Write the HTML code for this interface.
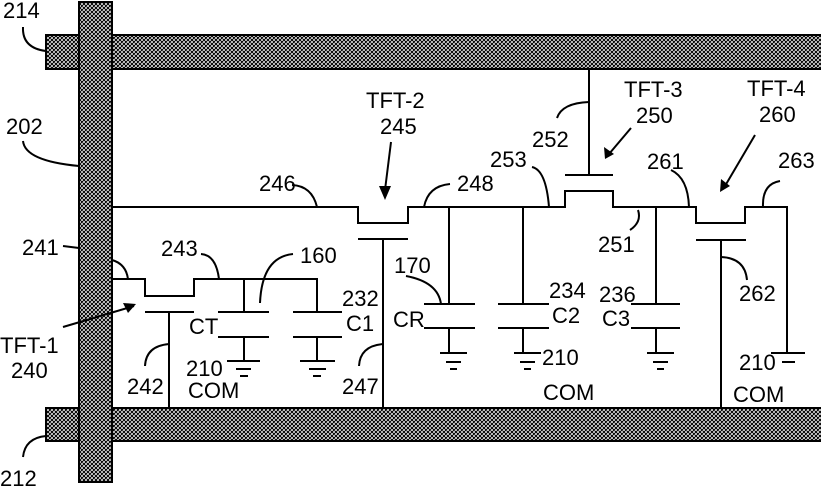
<!DOCTYPE html>
<html><head><meta charset="utf-8"><style>
html,body{margin:0;padding:0;background:#fff;}
svg{display:block;}
text{font-family:"Liberation Sans",Arial,sans-serif;font-size:22px;fill:#000;}
</style></head><body>
<svg width="821" height="486" viewBox="0 0 821 486" xmlns="http://www.w3.org/2000/svg">
<defs>
<pattern id="h" width="4" height="4" patternUnits="userSpaceOnUse">
<rect width="4" height="4" fill="#fff"/>
<path d="M-1,1 L1,-1 M0,4 L4,0 M3,5 L5,3 M-1,3 L1,5 M0,0 L4,4 M3,-1 L5,1" stroke="#000" stroke-width="1.1"/>
</pattern>
</defs>
<g stroke="#000" stroke-width="2" fill="url(#h)">
<rect x="46" y="35" width="780" height="34"/>
<rect x="46" y="408" width="780" height="33"/>
<rect x="79" y="2" width="33" height="480"/>
</g>
<g stroke="#000" stroke-width="2" fill="none">
<polyline points="112,207 358,207 358,223 408,223 408,207 565,207 565,191 613,191 613,207 696,207 696,223 745,223 745,207 787,207 787,353"/>
<line x1="771" y1="353" x2="805" y2="353"/>
<line x1="782" y1="362" x2="795" y2="362"/>
<line x1="358" y1="239" x2="408" y2="239"/><line x1="383" y1="239" x2="383" y2="408"/>
<line x1="565" y1="175" x2="613" y2="175"/><line x1="589" y1="175" x2="589" y2="69"/>
<line x1="696" y1="240" x2="746" y2="240"/><line x1="721" y1="240" x2="721" y2="408"/>
<line x1="449" y1="207" x2="449" y2="304"/><line x1="424" y1="304" x2="475" y2="304"/><line x1="424" y1="328" x2="475" y2="328"/><line x1="449" y1="328" x2="449" y2="353"/><line x1="440" y1="353" x2="467" y2="353"/><line x1="446" y1="362" x2="461" y2="362"/><line x1="450" y1="369" x2="457" y2="369"/>
<line x1="523" y1="207" x2="523" y2="304"/><line x1="498" y1="304" x2="549" y2="304"/><line x1="498" y1="328" x2="549" y2="328"/><line x1="523" y1="328" x2="523" y2="353"/><line x1="514" y1="353" x2="541" y2="353"/><line x1="520" y1="362" x2="535" y2="362"/><line x1="524" y1="369" x2="531" y2="369"/>
<line x1="656" y1="207" x2="656" y2="304"/><line x1="631" y1="304" x2="680" y2="304"/><line x1="631" y1="328" x2="680" y2="328"/><line x1="656" y1="328" x2="656" y2="353"/><line x1="647" y1="353" x2="674" y2="353"/><line x1="653" y1="362" x2="668" y2="362"/><line x1="657" y1="369" x2="664" y2="369"/>
<polyline points="112,279 145,279 145,296 194,296 194,279 317,279 317,312"/>
<line x1="145" y1="312" x2="194" y2="312"/><line x1="169" y1="312" x2="169" y2="408"/>
<line x1="244" y1="279" x2="244" y2="312"/><line x1="218" y1="312" x2="269" y2="312"/><line x1="218" y1="337" x2="269" y2="337"/><line x1="244" y1="337" x2="244" y2="361"/><line x1="227" y1="361" x2="260" y2="361"/><line x1="236" y1="369" x2="251" y2="369"/><line x1="240" y1="376" x2="248" y2="376"/>
<line x1="293" y1="312" x2="342" y2="312"/><line x1="293" y1="337" x2="342" y2="337"/><line x1="317" y1="337" x2="317" y2="361"/><line x1="300" y1="361" x2="335" y2="361"/><line x1="309" y1="369" x2="326" y2="369"/><line x1="313" y1="376" x2="321" y2="376"/>
<path d="M23,27 Q22,48 46,51"/>
<path d="M23,141 Q25,161 79,166"/>
<path d="M292,185 Q312,186 317,207"/>
<path d="M424,207 Q428,186 450,184"/>
<path d="M532,167 Q546,170 549,207"/>
<path d="M557,118 Q562,103 589,102"/>
<path d="M638,210 Q642,222 630,230"/>
<path d="M671,170 Q688,178 689,207"/>
<path d="M763,207 Q762,184 780,181"/>
<path d="M721,257 Q745,258 747,280"/>
<path d="M406,276 Q438,282 441,304"/>
<path d="M63,246 L79,248"/>
<path d="M112,260 Q126,264 128,279"/>
<path d="M201,254 Q216,255 219,279"/>
<path d="M293,254 Q262,257 260,303"/>
<path d="M145,366 Q146,346 169,344"/>
<path d="M359,366 Q360,346 383,344"/>
<path d="M23,457 Q25,438 46,436"/>
<path d="M63,327 L134,306"/>
</g>
<g fill="#000">
<polygon points="385,200 379,186 391,186"/>
<polygon points="605,159 604,147 614,154"/>
<polygon points="720,192 721,179 730,186"/>
<polygon points="136,304 123,303 128,313"/>
<line x1="391" y1="142" x2="385" y2="190" stroke="#000" stroke-width="2"/>
<line x1="631" y1="128" x2="609" y2="154" stroke="#000" stroke-width="2"/>
<line x1="755" y1="135" x2="725" y2="186" stroke="#000" stroke-width="2"/>
</g>
<text x="3" y="18">214</text>
<text x="6" y="134">202</text>
<text x="259" y="191">246</text>
<text x="366" y="108">TFT-2</text>
<text x="380" y="134">245</text>
<text x="457" y="191">248</text>
<text x="490" y="167">253</text>
<text x="532" y="147">252</text>
<text x="624" y="97">TFT-3</text>
<text x="636" y="123">250</text>
<text x="747" y="96">TFT-4</text>
<text x="759" y="122">260</text>
<text x="647" y="169">261</text>
<text x="778" y="168">263</text>
<text x="598" y="252">251</text>
<text x="739" y="301">262</text>
<text x="394" y="273">170</text>
<text x="393" y="327">CR</text>
<text x="549" y="298">234</text>
<text x="552" y="323">C2</text>
<text x="599" y="302">236</text>
<text x="602" y="326">C3</text>
<text x="542" y="365">210</text>
<text x="543" y="400">COM</text>
<text x="739" y="370">210</text>
<text x="733" y="402">COM</text>
<text x="22" y="255">241</text>
<text x="161" y="256">243</text>
<text x="300" y="263">160</text>
<text x="342" y="306">232</text>
<text x="346" y="331">C1</text>
<text x="189" y="334">CT</text>
<text x="186" y="376">210</text>
<text x="188" y="398">COM</text>
<text x="127" y="394">242</text>
<text x="342" y="394">247</text>
<text x="0" y="353">TFT-1</text>
<text x="11" y="378">240</text>
<text x="0" y="486">212</text>
</svg>
</body></html>
